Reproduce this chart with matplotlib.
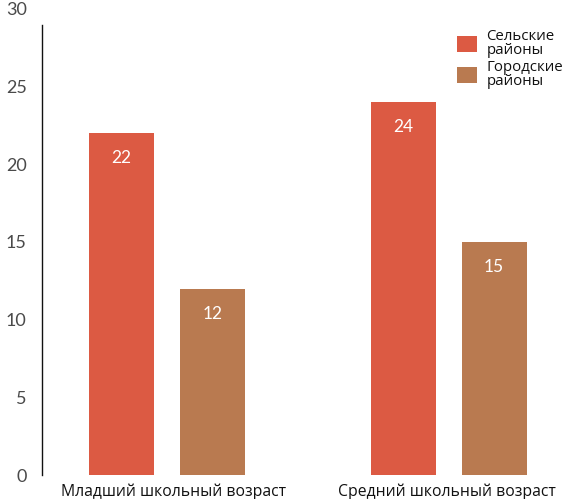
import matplotlib
matplotlib.use("Agg")
import matplotlib.pyplot as plt
from matplotlib.patches import Patch
import numpy as np

# Chart data
categories = ["Младший школьный возраст", "Средний школьный возраст"]
series_names = ["Сельские\nрайоны", "Городские\nрайоны"]
rural = [22, 24]
urban = [12, 15]
y_ticks = [0, 5, 10, 15, 20, 25, 30]

colors = ["#DC5A43", "#B97A50"]

fig = plt.figure(figsize=(5.70, 4.99), dpi=100)
ax = fig.add_axes([42 / 570, 24 / 499, 528 / 570, 466 / 499])

x = np.arange(len(categories))
width = 0.231
offset = 0.161

for vals, dx, col in [(rural, -offset, colors[0]), (urban, offset, colors[1])]:
    bars = ax.bar(x + dx, vals, width=width, color=col, zorder=2)
    for b, v in zip(bars, vals):
        ax.annotate(f"{v}", xy=(b.get_x() + b.get_width() / 2, v),
                    xytext=(0, -25), textcoords="offset pixels",
                    ha="center", va="center", color="white",
                    fontsize=12.5, family="Lato")

ax.set_xlim(-0.443, 1.43)
ax.set_ylim(0, 30)
ax.set_yticks(y_ticks)
ax.set_yticklabels([str(t) for t in y_ticks], family="Lato",
                   fontsize=13, color="#4a4a4a")
ax.tick_params(axis="y", length=0, pad=11)

ax.set_xticks(x)
ax.set_xticklabels(categories, family="Open Sans", fontsize=11.3, color="#111111")
ax.tick_params(axis="x", length=0, pad=6)
for lbl, dxp in zip(ax.get_xticklabels(), [7, -2]):
    lbl.set_transform(lbl.get_transform() +
                      matplotlib.transforms.ScaledTranslation(dxp / 100, 0, fig.dpi_scale_trans))

for s in ["top", "right", "bottom"]:
    ax.spines[s].set_visible(False)
ax.spines["left"].set_bounds(0, 29)
ax.spines["left"].set_linewidth(1.0)
ax.spines["left"].set_color("#111111")

handles = [Patch(facecolor=c) for c in colors]
leg = fig.legend(handles, series_names, loc="upper left",
                 bbox_to_anchor=(457 / 570, 1 - 29 / 499),
                 frameon=False, borderpad=0, borderaxespad=0,
                 handlelength=1.35, handleheight=1.3,
                 handletextpad=0.6, labelspacing=0.1,
                 prop={"family": "Open Sans", "size": 10.8})
for t in leg.get_texts():
    t.set_linespacing(0.95)
    t.set_color("#111111")

fig.savefig("out.png", dpi=100)
